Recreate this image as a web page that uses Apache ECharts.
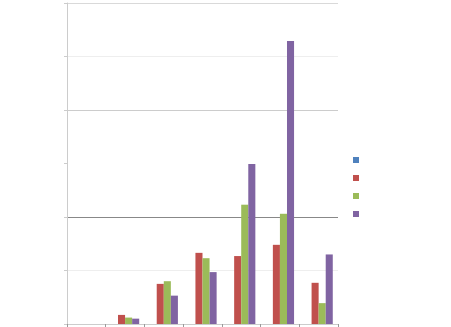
<!DOCTYPE html>
<html>
<head>
<meta charset="utf-8">
<script src="https://cdn.jsdelivr.net/npm/echarts@6/dist/echarts.min.js"></script>
<style>html,body{margin:0;padding:0;background:#fff;}#c{width:451px;height:327px;}</style>
</head>
<body>
<div id="c"></div>
<script>
var categories = ['1', '2', '3', '4', '5', '6', '7'];
var seriesNames = ['Series 1', 'Series 2', 'Series 3', 'Series 4'];
var blueValues = [null, null, null, null, null, null, null];
var redValues = [null, 1.7, 7.5, 13.3, 12.7, 14.8, 7.7];
var greenValues = [null, 1.2, 8.0, 12.3, 22.3, 20.6, 3.9];
var purpleValues = [null, 1.0, 5.3, 9.7, 29.9, 52.9, 13.0];
var colors = ['#4F81BD', '#C0504D', '#9BBB59', '#8064A2'];
var allValues = [blueValues, redValues, greenValues, purpleValues];

var chart = echarts.init(document.getElementById('c'), null, {renderer: 'canvas'});
chart.setOption({
  animation: false,
  backgroundColor: '#fff',
  color: colors,
  grid: {left: 67, right: 113, top: 3, bottom: 3, containLabel: false},
  legend: {
    orient: 'vertical',
    left: 353,
    top: 157,
    padding: 0,
    itemWidth: 6,
    itemHeight: 6,
    itemGap: 12,
    icon: 'rect',
    formatter: function () { return ''; },
    data: seriesNames
  },
  xAxis: {
    type: 'category',
    data: categories,
    axisLine: {show: true, lineStyle: {color: '#cccccc', width: 1}},
    axisTick: {show: true, length: 3, lineStyle: {color: '#999999'}},
    axisLabel: {show: false},
    splitLine: {show: false}
  },
  yAxis: {
    type: 'value',
    min: 0,
    max: 60,
    interval: 10,
    axisLine: {show: true, lineStyle: {color: '#cccccc'}},
    axisTick: {show: true, length: 3, lineStyle: {color: '#cccccc'}},
    axisLabel: {show: false},
    splitLine: {
      show: true,
      lineStyle: {
        color: ['#cccccc', '#eeeeee', '#888888', 'rgba(0,0,0,0)', '#cccccc', '#eeeeee', '#d9d9d9'],
        width: 1
      }
    }
  },
  series: seriesNames.map(function (n, i) {
    return {
      name: n,
      type: 'bar',
      data: allValues[i],
      barGap: '0%',
      barCategoryGap: '27%',
      itemStyle: {color: colors[i]}
    };
  })
});
</script>
</body>
</html>
